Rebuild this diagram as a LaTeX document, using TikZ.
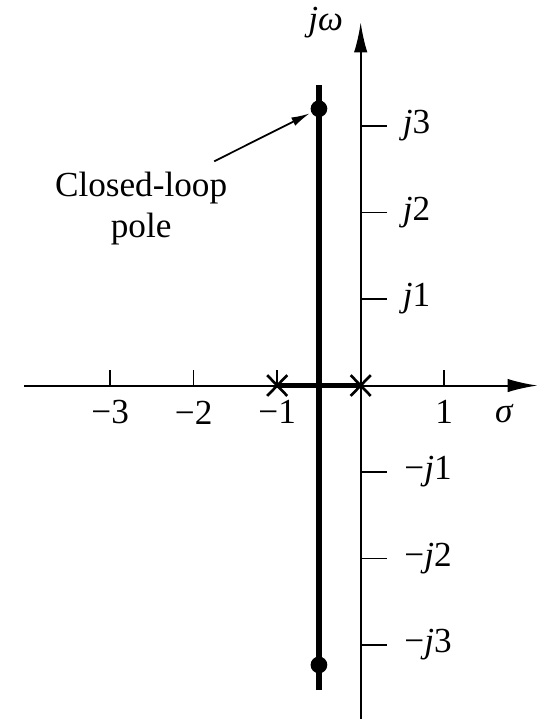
\documentclass[tikz,border=0pt]{standalone}
\usepackage{fontspec}
\setmainfont{Liberation Serif}
\usepackage{tikz}
\usetikzlibrary{arrows.meta}

\tikzset{
  axisline/.style={line width=0.7pt, -{Latex[length=3.6mm,width=1.6mm]}},
  locus/.style={line width=2pt},
  tickmark/.style={line width=0.5pt},
  olpole/.style={line width=0.9pt},
  clpole/.style={circle, fill, inner sep=0pt, minimum size=2mm},
}

\begin{document}
\begin{tikzpicture}[x=1cm, y=1.036cm, font=\fontsize{12}{14}\selectfont]
    \useasboundingbox (-4.32,-3.855) rectangle (2.22,4.457);

    % axes
    \coordinate (xmin) at (-4.03,0);
    \coordinate (xmax) at (2.12,0);
    \coordinate (ymin) at (0,-3.9);
    \coordinate (ymax) at (0,4.2);
    \draw[axisline] (xmin) -- (xmax);
    \draw[axisline] (ymin) -- (ymax);
    \node (sigma) at (1.72,-0.32) {\textit{σ}};
    \node (jw) at (-0.42,4.2) {\textit{jω}};

    % ticks
    \foreach \x/\lab in {-3/−3,-2/−2,-1/−1,1/1}{
        \draw[tickmark] (\x,0) -- (\x,0.18);
        \node at (\x,-0.31) {\lab};
    }
    \foreach \y in {1,2,3}{
        \draw[tickmark] (0,\y) -- (0.31,\y);
        \node[anchor=west] at (0.38,\y) {\textit{j}\y};
        \draw[tickmark] (0,-\y) -- (0.31,-\y);
        \node[anchor=west] at (0.4,-\y) {−\textit{j}\y};
    }

    % root locus
    \coordinate (top) at (-0.5,3.47);
    \coordinate (bot) at (-0.5,-3.52);
    \coordinate (ol1) at (-1,0);
    \coordinate (ol2) at (0,0);
    \draw[locus] (top) -- (bot);
    \draw[locus] (ol1) -- (ol2);

    % open-loop poles
    \foreach \p in {ol1,ol2}{
        \draw[olpole] ([shift={(-0.12,-0.12)}]\p) -- ([shift={(0.12,0.12)}]\p);
        \draw[olpole] ([shift={(-0.12,0.12)}]\p) -- ([shift={(0.12,-0.12)}]\p);
    }

    % closed-loop poles
    \node[clpole] (clp1) at (-0.5,3.2) {};
    \node[clpole] (clp2) at (-0.5,-3.23) {};

    \node[align=center] (lbl) at (-2.63,2.05) {Closed-loop\\pole};
    \draw[-{Latex[length=2.2mm,width=1.1mm]}, line width=0.6pt, shorten >=0.5pt]
        ([shift={(-0.28,0.0)}]lbl.north east) -- (clp1);
\end{tikzpicture}
\end{document}
